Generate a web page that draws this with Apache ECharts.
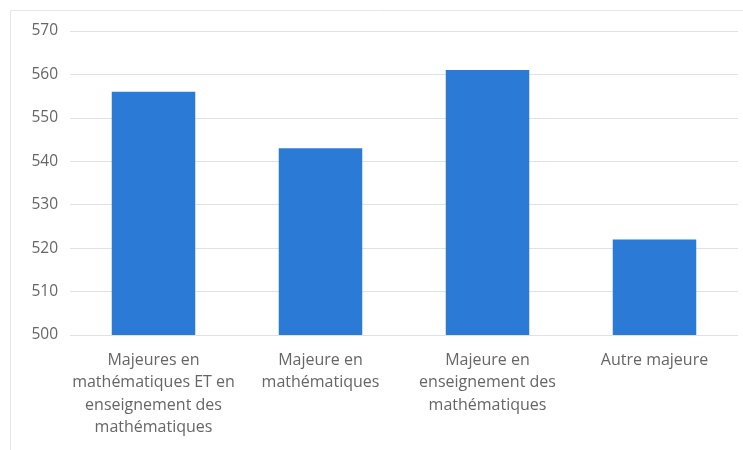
<!DOCTYPE html>
<html>
<head>
<meta charset="utf-8">
<script src="https://cdn.jsdelivr.net/npm/echarts@6/dist/echarts.min.js"></script>
<style>
html,body{margin:0;padding:0;background:#fff;}
#c{width:743px;height:450px;}
</style>
</head>
<body>
<div id="c"></div>
<script>
const categories = [
  "Majeures en\nmathématiques ET en\nenseignement des\nmathématiques",
  "Majeure en\nmathématiques",
  "Majeure en\nenseignement des\nmathématiques",
  "Autre majeure"
];
const values = [556, 543, 561, 522];
const yMin = 500, yMax = 570, yStep = 10;

const chart = echarts.init(document.getElementById('c'));
chart.setOption({
  animation: false,
  backgroundColor: '#fff',
  graphic: [{
    type: 'rect',
    shape: {x: 10.5, y: 10.5, width: 800, height: 500},
    style: {fill: 'none', stroke: '#e6e6e6', lineWidth: 1},
    silent: true, z: -1
  }],
  grid: {left: 70, right: 5, top: 31, bottom: 115, containLabel: false},
  xAxis: {
    type: 'category',
    data: categories,
    axisLine: {show: false},
    axisTick: {show: false},
    axisLabel: {
      interval: 0,
      color: '#666666',
      fontFamily: 'Open Sans',
      fontSize: 16,
      lineHeight: 22.5,
      margin: 14
    }
  },
  yAxis: {
    type: 'value',
    min: yMin, max: yMax, interval: yStep,
    axisLine: {show: false},
    axisTick: {show: false},
    axisLabel: {color: '#666666', fontFamily: 'Open Sans', fontSize: 15.5, margin: 12},
    splitLine: {lineStyle: {color: '#e2e2e2', width: 1}}
  },
  series: [{
    type: 'bar',
    data: values,
    barWidth: '50%',
    itemStyle: {color: '#2b7bd6'}
  }]
});
</script>
</body>
</html>
